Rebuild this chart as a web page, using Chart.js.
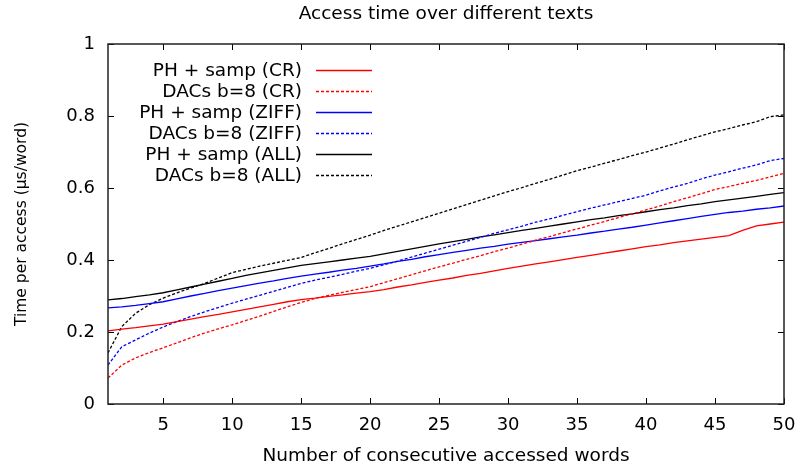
<!DOCTYPE html>
<html>
<head>
<meta charset="utf-8">
<title>Access time over different texts</title>
<script src="https://cdn.jsdelivr.net/npm/chart.js@4"></script>
<style>
    body { margin: 0; background: #fff; }
    canvas { display: block; }
</style>
</head>
<body>
<canvas id="accessChart" width="800" height="468"></canvas>
<script>
// Number of consecutive words accessed
const words = [1, 2, 3, 4, 5, 6, 7, 8, 9, 10, 11, 12, 13, 14, 15, 16, 17, 18, 19, 20,
    21, 22, 23, 24, 25, 26, 27, 28, 29, 30, 31, 32, 33, 34, 35, 36, 37, 38, 39, 40,
    41, 42, 43, 44, 45, 46, 47, 48, 49, 50];

// Time per access (µs/word)
const phSampCR = [0.203, 0.208, 0.212, 0.217, 0.222, 0.229, 0.236, 0.243, 0.249, 0.256,
    0.263, 0.270, 0.277, 0.284, 0.290, 0.294, 0.299, 0.303, 0.308, 0.312,
    0.318, 0.325, 0.331, 0.338, 0.344, 0.350, 0.357, 0.363, 0.370, 0.377,
    0.383, 0.389, 0.395, 0.401, 0.407, 0.413, 0.419, 0.425, 0.431, 0.437,
    0.442, 0.448, 0.453, 0.458, 0.463, 0.468, 0.482, 0.495, 0.500, 0.505];
const dacsCR = [0.072, 0.108, 0.128, 0.143, 0.156, 0.170, 0.184, 0.197, 0.209, 0.220,
    0.232, 0.244, 0.257, 0.270, 0.282, 0.293, 0.302, 0.310, 0.318, 0.326,
    0.337, 0.348, 0.359, 0.370, 0.381, 0.391, 0.402, 0.412, 0.423, 0.433,
    0.444, 0.455, 0.465, 0.476, 0.486, 0.497, 0.507, 0.518, 0.528, 0.539,
    0.550, 0.562, 0.573, 0.584, 0.596, 0.604, 0.613, 0.621, 0.631, 0.641];
const phSampZIFF = [0.267, 0.270, 0.274, 0.279, 0.284, 0.292, 0.300, 0.307, 0.315, 0.322,
    0.329, 0.336, 0.342, 0.349, 0.355, 0.361, 0.366, 0.372, 0.377, 0.383,
    0.389, 0.396, 0.402, 0.409, 0.415, 0.421, 0.427, 0.433, 0.438, 0.444,
    0.449, 0.454, 0.459, 0.464, 0.469, 0.475, 0.480, 0.486, 0.491, 0.497,
    0.503, 0.509, 0.515, 0.521, 0.527, 0.532, 0.536, 0.541, 0.545, 0.550];
const dacsZIFF = [0.108, 0.159, 0.178, 0.197, 0.214, 0.229, 0.243, 0.256, 0.268, 0.280,
    0.291, 0.302, 0.313, 0.324, 0.335, 0.344, 0.352, 0.360, 0.369, 0.377,
    0.387, 0.397, 0.408, 0.419, 0.430, 0.441, 0.452, 0.463, 0.474, 0.484,
    0.494, 0.505, 0.514, 0.524, 0.534, 0.544, 0.553, 0.562, 0.571, 0.580,
    0.592, 0.603, 0.613, 0.625, 0.636, 0.645, 0.655, 0.664, 0.676, 0.682];
const phSampALL = [0.289, 0.293, 0.298, 0.303, 0.309, 0.317, 0.325, 0.333, 0.341, 0.349,
    0.357, 0.364, 0.371, 0.378, 0.385, 0.390, 0.395, 0.400, 0.405, 0.410,
    0.417, 0.424, 0.431, 0.438, 0.445, 0.451, 0.457, 0.464, 0.470, 0.476,
    0.482, 0.488, 0.494, 0.500, 0.506, 0.512, 0.517, 0.523, 0.528, 0.534,
    0.540, 0.545, 0.551, 0.556, 0.562, 0.567, 0.572, 0.577, 0.582, 0.587];
const dacsALL = [0.142, 0.215, 0.252, 0.276, 0.294, 0.309, 0.322, 0.335, 0.350, 0.365,
    0.374, 0.383, 0.391, 0.399, 0.407, 0.420, 0.432, 0.445, 0.457, 0.469,
    0.482, 0.494, 0.506, 0.518, 0.530, 0.542, 0.554, 0.566, 0.578, 0.590,
    0.601, 0.613, 0.624, 0.636, 0.648, 0.658, 0.669, 0.679, 0.690, 0.700,
    0.711, 0.722, 0.734, 0.745, 0.756, 0.765, 0.775, 0.784, 0.798, 0.803];

const seriesNames = ['PH + samp (CR)', 'DACs b=8 (CR)', 'PH + samp (ZIFF)',
    'DACs b=8 (ZIFF)', 'PH + samp (ALL)', 'DACs b=8 (ALL)'];

const xTicks = [5, 10, 15, 20, 25, 30, 35, 40, 45, 50];
const yTicks = [0, 0.2, 0.4, 0.6, 0.8, 1];

const FONT = 'DejaVu Sans';
const DASH = [3, 2];

function points(values) {
    return values.map((v, i) => ({ x: words[i], y: v }));
}

function series(label, values, color, dashed) {
    return {
        label: label,
        data: points(values),
        borderColor: color,
        backgroundColor: color,
        borderWidth: 1.3,
        borderDash: dashed ? DASH : [],
        pointRadius: 0,
        tension: 0,
        fill: false
    };
}

// gnuplot-like frame: box round the plot with inward ticks on all four sides
const framePlugin = {
    id: 'frame',
    afterDatasetsDraw(chart) {
        const { ctx, chartArea: a, scales } = chart;
        const len = 6;
        ctx.save();
        ctx.strokeStyle = '#000';
        ctx.lineWidth = 1;
        ctx.beginPath();
        xTicks.forEach(v => {
            const px = Math.round(scales.x.getPixelForValue(v)) + 0.5;
            ctx.moveTo(px, a.bottom); ctx.lineTo(px, a.bottom - len);
            ctx.moveTo(px, a.top); ctx.lineTo(px, a.top + len);
        });
        yTicks.forEach(v => {
            const py = Math.round(scales.y.getPixelForValue(v)) + 0.5;
            ctx.moveTo(a.left, py); ctx.lineTo(a.left + len, py);
            ctx.moveTo(a.right, py); ctx.lineTo(a.right - len, py);
        });
        ctx.stroke();
        ctx.lineWidth = 1.5;
        ctx.strokeStyle = '#222';
        ctx.strokeRect(a.left, a.top, a.right - a.left, a.bottom - a.top);
        ctx.restore();
    }
};

// Key inside the plot: label text right-aligned, line sample to its right
const keyPlugin = {
    id: 'key',
    afterDraw(chart) {
        const { ctx } = chart;
        const textRight = 302;
        const sampleLeft = 316;
        const sampleRight = 372;
        const top = 70;
        const step = 21;
        ctx.save();
        ctx.font = '18.5px "' + FONT + '"';
        ctx.textAlign = 'right';
        ctx.textBaseline = 'middle';
        chart.data.datasets.forEach((ds, i) => {
            const y = top + i * step;
            ctx.fillStyle = '#000';
            ctx.fillText(ds.label, textRight, y + 1);
            ctx.strokeStyle = ds.borderColor;
            ctx.lineWidth = 1.3;
            ctx.setLineDash(ds.borderDash);
            ctx.beginPath();
            ctx.moveTo(sampleLeft, y + 0.5);
            ctx.lineTo(sampleRight, y + 0.5);
            ctx.stroke();
        });
        ctx.restore();
    }
};

new Chart(document.getElementById('accessChart'), {
    type: 'line',
    data: {
        datasets: [
            series(seriesNames[0], phSampCR, '#ff0000', false),
            series(seriesNames[1], dacsCR, '#ff0000', true),
            series(seriesNames[2], phSampZIFF, '#0000ff', false),
            series(seriesNames[3], dacsZIFF, '#0000ff', true),
            series(seriesNames[4], phSampALL, '#000000', false),
            series(seriesNames[5], dacsALL, '#000000', true)
        ]
    },
    options: {
        responsive: false,
        animation: false,
        layout: {
            padding: { left: 0, right: 16, top: 0, bottom: 0 }
        },
        plugins: {
            legend: { display: false },
            tooltip: { enabled: false },
            title: {
                display: true,
                fullSize: false,
                text: 'Access time over different texts',
                color: '#000',
                font: { family: FONT, size: 18.5, weight: 'normal' },
                padding: { top: 3, bottom: 18.8 }
            }
        },
        scales: {
            x: {
                type: 'linear',
                min: 1,
                max: 50,
                afterBuildTicks: scale => {
                    scale.ticks = xTicks.map(v => ({ value: v }));
                },
                afterFit: scale => {
                    scale.height = 64;
                    scale.paddingLeft = 0;
                    scale.paddingRight = 0;
                },
                grid: { display: false, drawTicks: false },
                border: { display: false },
                ticks: {
                    color: '#000',
                    padding: 11,
                    maxRotation: 0,
                    font: { family: FONT, size: 18 }
                },
                title: {
                    display: true,
                    text: 'Number of consecutive accessed words',
                    color: '#000',
                    font: { family: FONT, size: 18.5 },
                    padding: { top: 0, bottom: 1 }
                }
            },
            y: {
                min: 0,
                max: 1,
                afterBuildTicks: scale => {
                    scale.ticks = yTicks.map(v => ({ value: v }));
                },
                afterFit: scale => { scale.width = 108; },
                grid: { display: false, drawTicks: false },
                border: { display: false },
                ticks: {
                    color: '#000',
                    padding: 13,
                    font: { family: FONT, size: 18 },
                    callback: v => String(v)
                },
                title: {
                    display: true,
                    text: 'Time per access (µs/word)',
                    color: '#000',
                    font: { family: FONT, size: 15.5 },
                    padding: { top: 13, bottom: 0 }
                }
            }
        }
    },
    plugins: [framePlugin, keyPlugin]
});
</script>
</body>
</html>
